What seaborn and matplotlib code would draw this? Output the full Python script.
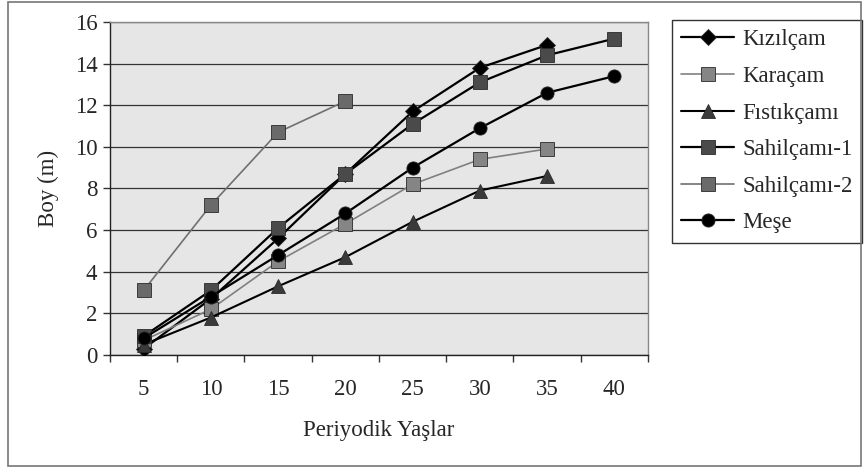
import numpy as np
import pandas as pd
import matplotlib
matplotlib.use("Agg")
import matplotlib.pyplot as plt
import seaborn as sns
from matplotlib.patches import Rectangle

# Periyodik yaşlara göre boy (m)
yaslar = [5, 10, 15, 20, 25, 30, 35, 40]
kizilcam = [0.3, 2.7, 5.6, 8.7, 11.7, 13.8, 14.9, np.nan]
karacam = [0.7, 2.2, 4.5, 6.3, 8.2, 9.4, 9.9, np.nan]
fistikcami = [0.5, 1.8, 3.3, 4.7, 6.4, 7.9, 8.6, np.nan]
sahilcami_1 = [0.9, 3.1, 6.1, 8.7, 11.1, 13.1, 14.4, 15.2]
sahilcami_2 = [3.1, 7.2, 10.7, 12.2, np.nan, np.nan, np.nan, np.nan]
mese = [0.8, 2.8, 4.8, 6.8, 9.0, 10.9, 12.6, 13.4]

seriler = {
    "Kızılçam": kizilcam,
    "Karaçam": karacam,
    "Fıstıkçamı": fistikcami,
    "Sahilçamı-1": sahilcami_1,
    "Sahilçamı-2": sahilcami_2,
    "Meşe": mese,
}

# her seri için çizgi rengi, işaret, işaret rengi, çizgi kalınlığı
stiller = {
    "Kızılçam": ("black", "D", "black", 1.6),
    "Karaçam": ("#808080", "s", "#858585", 1.2),
    "Fıstıkçamı": ("black", "^", "#3a3a3a", 1.5),
    "Sahilçamı-1": ("black", "s", "#4a4a4a", 1.6),
    "Sahilçamı-2": ("#707070", "s", "#6a6a6a", 1.2),
    "Meşe": ("black", "o", "black", 1.6),
}

df = pd.DataFrame(seriler)
df["Yaş"] = yaslar

sns.set_style("white")
plt.rcParams["font.family"] = ["Liberation Serif", "DejaVu Serif"]
fs = 16.5

fig = plt.figure(figsize=(8.64, 4.68), dpi=100)
ax = fig.add_axes([0.1273, 0.2415, 0.6227, 0.7115])
ax.set_facecolor("#e6e6e6")

for ad in seriler:
    renk, isaret, irenk, lw = stiller[ad]
    veri = df[["Yaş", ad]].dropna()
    sns.lineplot(data=veri, x="Yaş", y=ad, ax=ax, color=renk, lw=lw,
                 marker=isaret, markersize=9.5 if isaret != "D" else 8.5,
                 markerfacecolor=irenk, markeredgecolor="#2a2a2a",
                 markeredgewidth=0.6, label=ad, zorder=3)

ax.set_xlim(2.5, 42.5)
ax.set_ylim(0, 16)
ax.set_xticks(yaslar)
ax.set_xticks(np.arange(2.5, 43, 5), minor=True)
ax.set_yticks(np.arange(0, 17, 2))
ax.tick_params(axis="x", which="major", length=0, labelsize=fs, pad=17)
ax.tick_params(axis="x", which="minor", length=5, width=1, color="#333333", direction="out")
ax.tick_params(axis="y", length=5, width=1, color="#333333", direction="out", labelsize=fs, pad=4)
ax.xaxis.set_ticks_position("bottom")
ax.yaxis.set_ticks_position("left")

ax.grid(axis="y", color="#333333", lw=0.9)
ax.set_axisbelow(True)
for k, sp in ax.spines.items():
    sp.set_color("#888888")
    sp.set_linewidth(1)
ax.spines["left"].set_color("#222222")
ax.spines["bottom"].set_color("#222222")

ax.set_xlabel("Periyodik Yaşlar", fontsize=fs, labelpad=15)
ax.set_ylabel("Boy (m)", fontsize=fs, labelpad=11)

ax.legend(loc="upper left", bbox_to_anchor=(0.778, 0.957), bbox_transform=fig.transFigure,
          fontsize=fs, frameon=True, fancybox=False, edgecolor="#333333",
          handlelength=2.3, labelspacing=0.68, borderpad=0.4, handletextpad=0.35,
          borderaxespad=0, framealpha=1)

# dış çerçeve
fig.patches.append(Rectangle((0.009, 0.004), 0.988, 0.992, transform=fig.transFigure,
                             fill=False, edgecolor="#777777", lw=1.2))

fig.savefig("out.png", dpi=100)
